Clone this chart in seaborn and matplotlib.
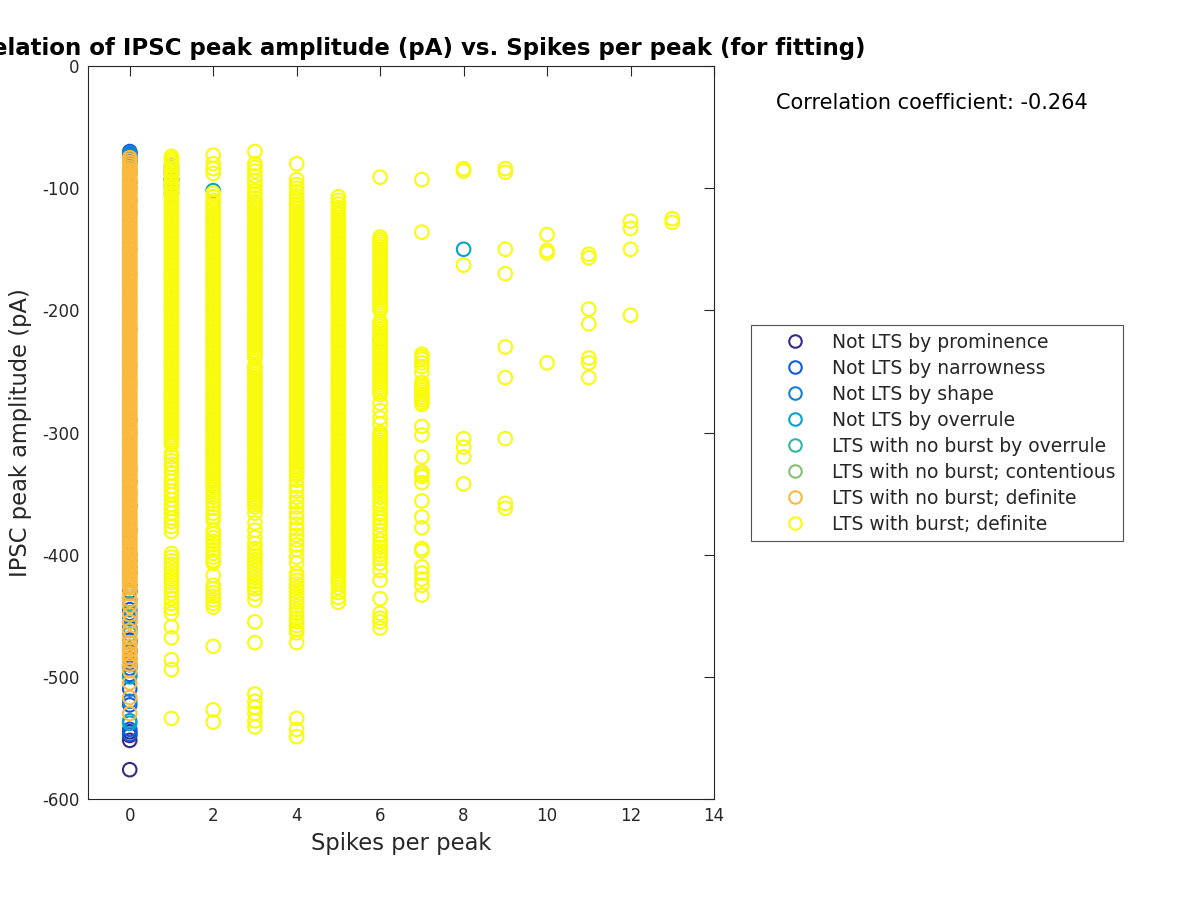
import numpy as np
import pandas as pd
import matplotlib
matplotlib.use("Agg")
import matplotlib.pyplot as plt
import seaborn as sns
from matplotlib.lines import Line2D

categories = [
    "Not LTS by prominence",
    "Not LTS by narrowness",
    "Not LTS by shape",
    "Not LTS by overrule",
    "LTS with no burst by overrule",
    "LTS with no burst; contentious",
    "LTS with no burst; definite",
    "LTS with burst; definite",
]
colors = ["#352A87", "#0F5CDD", "#1481D6", "#06A4CA",
          "#2EB7A4", "#87BF77", "#FBBA3D", "#F9FB0E"]

# --- Not LTS by prominence: (x, y)
prom_x = [0, 0, 0, 0, 0, 0, 1]
prom_y = [-548, -552, -576, -545, -470, -430, -93]

# --- Not LTS by narrowness
narr_x = [0, 0, 0, 0, 0, 0, 0, 0, 0, 0, 0, 0, 0, 0, 0, 0, 0, 0, 0, 0, 0, 0, 1, 1]
narr_y = [-70, -72, -74, -78, -360, -380, -400, -405, -425, -445, -448, -460,
          -472, -478, -490, -493, -498, -510, -523, -543, -547, -415, -88, -97]

# --- Not LTS by shape
shape_x = [0, 0, 0, 0, 0, 0, 0, 0, 0, 0, 0, 0, 0, 0, 0, 0, 0, 1, 1, 1]
shape_y = [-71, -73, -76, -80, -88, -95, -110, -215, -290, -340, -410,
           -437, -452, -462, -480, -485, -520, -82, -92, -104]

# --- Not LTS by overrule
over_x = [0, 0, 0, 0, 0, 0, 0, 1, 1, 2, 8]
over_y = [-85, -100, -150, -300, -500, -538, -536, -85, -100, -102, -150]

# --- LTS with no burst by overrule
nbo_x = [0, 0, 0, 0, 0, 0, 6]
nbo_y = [-120, -245, -330, -350, -440, -465, -224]

# --- LTS with no burst; contentious
cont_x = [0, 0, 0, 0]
cont_y = [-170, -260, -420, -455]

# --- LTS with no burst; definite (all at 0 spikes per peak)
nbd_y = [-75, -77, -79, -81, -83, -85, -87, -89, -91, -93, -95, -97, -99,
         -101, -103, -105, -107, -109, -111, -113, -115, -117, -119, -121,
         -123, -125, -127, -129, -131, -133, -135, -137, -139, -141, -143,
         -145, -147, -149, -151, -153, -155, -157, -159, -161, -163, -165,
         -167, -169, -171, -173, -175, -177, -179, -181, -183, -185, -187,
         -189, -191, -193, -195, -197, -199, -201, -203, -205, -207, -209,
         -211, -213, -215, -217, -219, -221, -223, -225, -227, -229, -231,
         -233, -235, -237, -239, -241, -243, -245, -247, -249, -251, -253,
         -255, -257, -259, -261, -263, -265, -267, -269, -271, -273, -275,
         -277, -279, -281, -283, -285, -287, -289, -291, -293, -295, -297,
         -299, -301, -303, -305, -307, -309, -311, -313, -315, -317, -319,
         -321, -323, -325, -327, -329, -331, -333, -335, -337, -339, -341,
         -343, -345, -347, -349, -351, -353, -355, -357, -359, -361, -363,
         -365, -367, -369, -371, -373, -375, -377, -379, -381, -383, -385,
         -387, -389, -391, -393, -395, -397, -399, -401, -403, -405, -407,
         -409, -411, -413, -415, -417, -419, -421, -423, -425, -427, -432,
         -437, -442, -449, -455, -462, -468, -472, -475, -478, -481, -484,
         -487, -490, -495, -505, -517, -530]

# --- LTS with burst; definite, one list per spikes-per-peak value
b1 = [-74, -76, -78, -80, -82, -84, -86, -88, -90, -92, -94, -96, -98, -100,
      -102, -104, -106, -108, -110, -112, -114, -116, -118, -120, -122, -124,
      -126, -128, -130, -132, -134, -136, -138, -140, -142, -144, -146, -148,
      -150, -152, -154, -156, -158, -160, -162, -164, -166, -168, -170, -172,
      -174, -176, -178, -180, -182, -184, -186, -188, -190, -192, -194, -196,
      -198, -200, -202, -204, -206, -208, -210, -212, -214, -216, -218, -220,
      -222, -224, -226, -228, -230, -232, -234, -236, -238, -240, -242, -244,
      -246, -248, -250, -252, -254, -256, -258, -260, -262, -264, -266, -268,
      -270, -272, -274, -276, -278, -280, -282, -284, -286, -288, -290, -292,
      -294, -296, -298, -300, -302, -304, -306, -308, -310, -317, -320, -323,
      -326, -329, -333, -337, -340, -344, -348, -351, -355, -359, -362, -366,
      -370, -373, -377, -381, -399, -402, -405, -408, -411, -414, -417, -420,
      -423, -426, -429, -432, -436, -440, -444, -448, -459, -468, -486, -494,
      -534]
b2 = [-73, -80, -84, -88, -104, -107, -110, -112, -114, -116, -118, -120,
      -122, -124, -126, -128, -130, -132, -134, -136, -138, -140, -142, -144,
      -146, -148, -150, -152, -154, -156, -158, -160, -162, -164, -166, -168,
      -170, -172, -174, -176, -178, -180, -182, -184, -186, -188, -190, -192,
      -194, -196, -198, -200, -202, -204, -206, -208, -210, -212, -214, -216,
      -218, -220, -222, -224, -226, -228, -230, -232, -234, -236, -238, -240,
      -242, -244, -246, -248, -250, -252, -254, -256, -258, -260, -262, -264,
      -266, -268, -270, -272, -274, -276, -278, -280, -282, -284, -286, -288,
      -290, -292, -294, -296, -298, -300, -302, -304, -306, -308, -310, -312,
      -314, -316, -318, -320, -322, -324, -326, -328, -330, -332, -334, -336,
      -338, -340, -342, -344, -347, -350, -353, -356, -359, -362, -366, -369,
      -372, -380, -383, -386, -389, -392, -396, -399, -402, -405, -407, -417,
      -425, -428, -431, -434, -437, -440, -443, -475, -527, -537]
b3 = [-70, -80, -83, -86, -90, -94, -98, -102, -105, -108, -111, -113, -115,
      -117, -119, -121, -123, -125, -127, -129, -131, -133, -135, -137, -139,
      -141, -143, -145, -147, -149, -151, -153, -155, -157, -159, -161, -163,
      -165, -167, -169, -171, -173, -175, -177, -179, -181, -183, -185, -187,
      -189, -191, -193, -195, -197, -199, -201, -203, -205, -207, -209, -211,
      -213, -215, -217, -219, -221, -223, -225, -227, -229, -231, -233, -235,
      -237, -239, -245, -247, -249, -251, -253, -255, -257, -259, -261, -263,
      -265, -267, -269, -271, -273, -275, -277, -279, -281, -283, -285, -287,
      -289, -291, -293, -295, -297, -299, -301, -303, -305, -307, -309, -311,
      -313, -315, -317, -319, -321, -323, -325, -327, -329, -331, -333, -335,
      -337, -339, -341, -343, -345, -347, -349, -351, -353, -355, -357, -359,
      -361, -366, -374, -380, -386, -391, -395, -398, -401, -404, -407, -410,
      -413, -416, -419, -422, -425, -428, -432, -437, -455, -472, -514, -520,
      -525, -530, -536, -541]
b4 = [-80, -93, -97, -100, -103, -106, -109, -111, -113, -115, -117, -119,
      -121, -123, -125, -127, -129, -131, -133, -135, -137, -139, -141, -143,
      -145, -147, -149, -151, -153, -155, -157, -159, -161, -163, -165, -167,
      -169, -171, -173, -175, -177, -179, -181, -183, -185, -187, -189, -191,
      -193, -195, -197, -199, -201, -203, -205, -207, -209, -211, -213, -215,
      -217, -219, -221, -223, -225, -227, -229, -231, -233, -235, -237, -239,
      -241, -243, -245, -247, -249, -251, -253, -255, -257, -259, -261, -263,
      -265, -267, -269, -271, -273, -275, -277, -279, -281, -283, -285, -287,
      -289, -291, -293, -295, -297, -299, -301, -303, -305, -307, -309, -311,
      -313, -315, -317, -319, -321, -323, -325, -327, -329, -331, -333, -335,
      -339, -344, -348, -353, -357, -361, -366, -370, -375, -379, -384, -388,
      -392, -396, -402, -407, -415, -418, -421, -424, -427, -430, -433, -436,
      -439, -442, -445, -448, -452, -455, -458, -461, -464, -472, -534, -543,
      -549]
b5 = [-107, -110, -113, -116, -118, -120, -122, -124, -126, -128, -130, -132,
      -134, -136, -138, -140, -142, -144, -146, -148, -150, -152, -154, -156,
      -158, -160, -162, -164, -166, -168, -170, -172, -174, -176, -178, -180,
      -182, -184, -186, -188, -190, -192, -194, -196, -198, -200, -202, -204,
      -206, -208, -210, -212, -214, -216, -218, -220, -222, -224, -226, -228,
      -230, -232, -234, -236, -238, -240, -242, -244, -246, -248, -250, -252,
      -254, -256, -258, -260, -262, -264, -266, -268, -270, -272, -274, -276,
      -278, -280, -282, -284, -286, -288, -290, -292, -294, -296, -298, -300,
      -302, -304, -306, -308, -310, -312, -314, -316, -318, -320, -322, -324,
      -326, -328, -330, -332, -334, -336, -338, -340, -342, -344, -346, -348,
      -350, -352, -354, -356, -358, -360, -362, -364, -366, -368, -370, -372,
      -374, -376, -378, -380, -382, -384, -386, -388, -390, -392, -394, -396,
      -398, -400, -402, -404, -406, -408, -410, -412, -414, -416, -418, -420,
      -422, -424, -427, -431, -435, -439]
b6 = [-91, -140, -142, -144, -146, -148, -150, -152, -154, -156, -158, -160,
      -162, -164, -166, -168, -170, -172, -174, -176, -178, -180, -182, -184,
      -186, -188, -190, -192, -194, -196, -198, -200, -209, -211, -213, -215,
      -217, -219, -221, -223, -225, -227, -229, -231, -233, -235, -237, -239,
      -241, -243, -245, -247, -249, -251, -253, -255, -257, -259, -261, -263,
      -265, -267, -269, -276, -282, -288, -293, -300, -302, -304, -306, -308,
      -310, -312, -314, -316, -318, -320, -322, -324, -326, -328, -330, -332,
      -334, -336, -338, -340, -342, -344, -347, -350, -353, -356, -359, -362,
      -367, -370, -373, -376, -380, -384, -388, -391, -394, -397, -400, -403,
      -407, -413, -421, -436, -448, -452, -455, -460]
b7 = [-93, -136, -236, -238, -240, -243, -246, -251, -259, -261, -263, -265,
      -267, -269, -271, -273, -275, -277, -295, -302, -320, -332, -334, -336,
      -341, -356, -369, -378, -395, -397, -410, -415, -420, -425, -433]
b8 = [-84, -86, -163, -305, -312, -320, -342]
b9 = [-84, -87, -150, -170, -230, -255, -305, -358, -362]
b10 = [-138, -151, -153, -243]
b11 = [-154, -157, -199, -211, -239, -243, -255]
b12 = [-127, -133, -150, -204]
b13 = [-125, -128]

burst_cols = [b1, b2, b3, b4, b5, b6, b7, b8, b9, b10, b11, b12, b13]

rows = []
def add(xs, ys, cat):
    for xv, yv in zip(xs, ys):
        rows.append((xv, yv, cat))

add(prom_x, prom_y, categories[0])
add(narr_x, narr_y, categories[1])
add(shape_x, shape_y, categories[2])
add(over_x, over_y, categories[3])
add(nbo_x, nbo_y, categories[4])
add(cont_x, cont_y, categories[5])
add([0] * len(nbd_y), nbd_y, categories[6])
for k, col in enumerate(burst_cols, start=1):
    add([k] * len(col), col, categories[7])

df = pd.DataFrame(rows, columns=["spikes", "amp", "cat"])
df["cat"] = pd.Categorical(df["cat"], categories=categories, ordered=True)
df = df.sort_values("cat", kind="stable").reset_index(drop=True)

sns.set_style("white")
plt.rcParams["font.family"] = ["DejaVu Sans"]

fig = plt.figure(figsize=(12, 9), dpi=100)
ax = fig.add_axes([88 / 1200, 1 - 799 / 900, 626 / 1200, 733 / 900])

palette = dict(zip(categories, colors))
sns.scatterplot(data=df, x="spikes", y="amp", hue="cat", palette=palette,
                hue_order=categories, marker="o", s=95, linewidth=0,
                legend=False, ax=ax)
for coll in ax.collections:
    fc = coll.get_facecolors()
    coll.set_edgecolors(fc)
    coll.set_facecolors("none")
    coll.set_linewidths(1.5)

ax.set_xlim(-1, 14)
ax.set_ylim(-600, 0)
ax.set_xticks(range(0, 15, 2))
ax.set_yticks(range(-600, 1, 100))
ax.set_xticklabels([str(v) for v in range(0, 15, 2)])
ax.set_yticklabels([str(v) for v in range(-600, 1, 100)])
ax.tick_params(direction="in", length=7, width=0.8, top=True, right=True,
               labelsize=12, colors="#262626", pad=6)
for sp in ax.spines.values():
    sp.set_color("#262626")
    sp.set_linewidth(0.8)

ax.set_xlabel("Spikes per peak", fontsize=16.3, color="#262626", labelpad=5)
ax.set_ylabel("IPSC peak amplitude (pA)", fontsize=16.3, color="#262626", labelpad=7)
ax.set_title("Correlation of IPSC peak amplitude (pA) vs. Spikes per peak (for fitting)",
             fontsize=16.5, fontweight="bold", pad=8, color="black")

fig.text(776 / 1200, 1 - 103 / 900, "Correlation coefficient: -0.264",
         fontsize=15, va="center", ha="left", color="black")

handles = [Line2D([0], [0], marker="o", linestyle="none", markersize=9,
                  markerfacecolor="none", markeredgecolor=c, markeredgewidth=1.5)
           for c in colors]
leg = fig.legend(handles, categories, loc="upper left",
                 bbox_to_anchor=(751 / 1200, 1 - 325 / 900), fontsize=13.5,
                 frameon=True, fancybox=False, edgecolor="#262626",
                 handletextpad=0.0, borderpad=0.4, labelspacing=0.375,
                 handlelength=3.9, borderaxespad=0)
leg.get_frame().set_linewidth(0.8)

fig.savefig("out.png", dpi=100)
